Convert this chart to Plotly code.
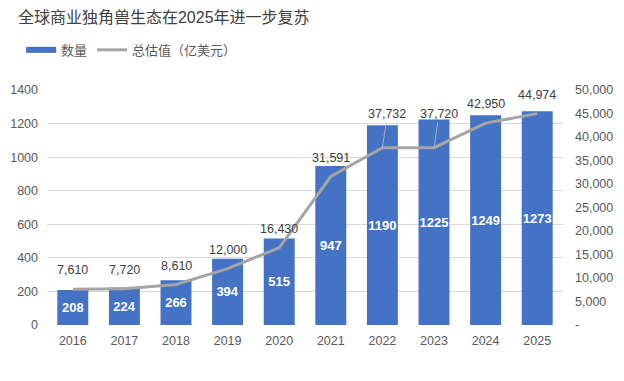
import plotly.graph_objects as go

years = ["2016", "2017", "2018", "2019", "2020", "2021", "2022", "2023", "2024", "2025"]
counts = [208, 224, 266, 394, 515, 947, 1190, 1225, 1249, 1273]
valuations = [7610, 7720, 8610, 12000, 16430, 31591, 37732, 37720, 42950, 44974]
left_ticks = [0, 200, 400, 600, 800, 1000, 1200, 1400]
right_ticks = [0, 5000, 10000, 15000, 20000, 25000, 30000, 35000, 40000, 45000, 50000]
right_ticktext = ["-"] + [f"{v:,}" for v in right_ticks[1:]]
leader_years = ["2022", "2023"]

FONT = "Liberation Sans, Arial, Noto Sans CJK SC, sans-serif"
BLUE = "#4472C4"
GRAY = "#A5A5A5"
TXT = "#595959"

fig = go.Figure()
fig.add_trace(go.Bar(
    x=years, y=counts, name="数量", marker_color=BLUE, showlegend=False,
    text=[str(c) for c in counts], textposition="inside", insidetextanchor="middle",
    constraintext="none",
    textfont=dict(color="white", size=13, family=FONT, weight="bold"),
    textangle=0, yaxis="y",
))
# legend-only entry drawn as a thick blue bar symbol like the reference
fig.add_trace(go.Scatter(
    x=[None], y=[None], name="数量", mode="lines",
    line=dict(color=BLUE, width=6), yaxis="y",
))
fig.add_trace(go.Scatter(
    x=years, y=valuations, name="总估值（亿美元）", mode="lines",
    line=dict(color=GRAY, width=3), yaxis="y2",
))

for i, (yr, v) in enumerate(zip(years, valuations)):
    if yr in leader_years:
        fig.add_annotation(x=i, y=v, xref="x", yref="y2", text=f"{v:,}",
                           showarrow=True, arrowhead=0, arrowwidth=0.8, arrowcolor="#BFBFBF",
                           ax=5, ay=-34, font=dict(size=12.5, color="#404040", family=FONT))
    else:
        fig.add_annotation(x=i, y=v, xref="x", yref="y2", text=f"{v:,}",
                           showarrow=False, yshift=19,
                           font=dict(size=12.5, color="#404040", family=FONT))

fig.update_layout(
    template="none",
    width=624, height=381,
    margin=dict(l=39, r=69, t=82, b=64, autoexpand=False),
    paper_bgcolor="white", plot_bgcolor="white",
    font=dict(family=FONT, color=TXT, size=12),
    title=dict(text="全球商业独角兽生态在2025年进一步复苏", x=0.016, xanchor="left",
               y=0.976, yanchor="middle", font=dict(size=16, color="#404040", family=FONT)),
    showlegend=True,
    legend=dict(orientation="h", xref="container", yref="container", x=0.021, y=0.89,
                xanchor="left", yanchor="middle", font=dict(size=13, color=TXT, family=FONT),
                tracegroupgap=0, bgcolor="rgba(0,0,0,0)"),
    bargap=0.4,
    xaxis=dict(type="category", range=[-0.5, 9.5], showgrid=False, showline=False, ticks="",
               zeroline=False, automargin=False, ticklabelstandoff=6,
               tickfont=dict(size=12.5, color=TXT)),
    yaxis=dict(range=[0, 1400], tickvals=left_ticks, showgrid=True, gridcolor="#D9D9D9",
               gridwidth=1, zeroline=False, showline=False, ticks="", ticklabelstandoff=8,
               automargin=False, tickfont=dict(size=12.5, color=TXT)),
    yaxis2=dict(range=[0, 50000], overlaying="y", side="right", tickvals=right_ticks,
                ticktext=right_ticktext, showgrid=False, zeroline=False, showline=False,
                ticks="", ticklabelstandoff=11, automargin=False,
                tickfont=dict(size=12.5, color=TXT)),
)

fig.write_html("out.html")
